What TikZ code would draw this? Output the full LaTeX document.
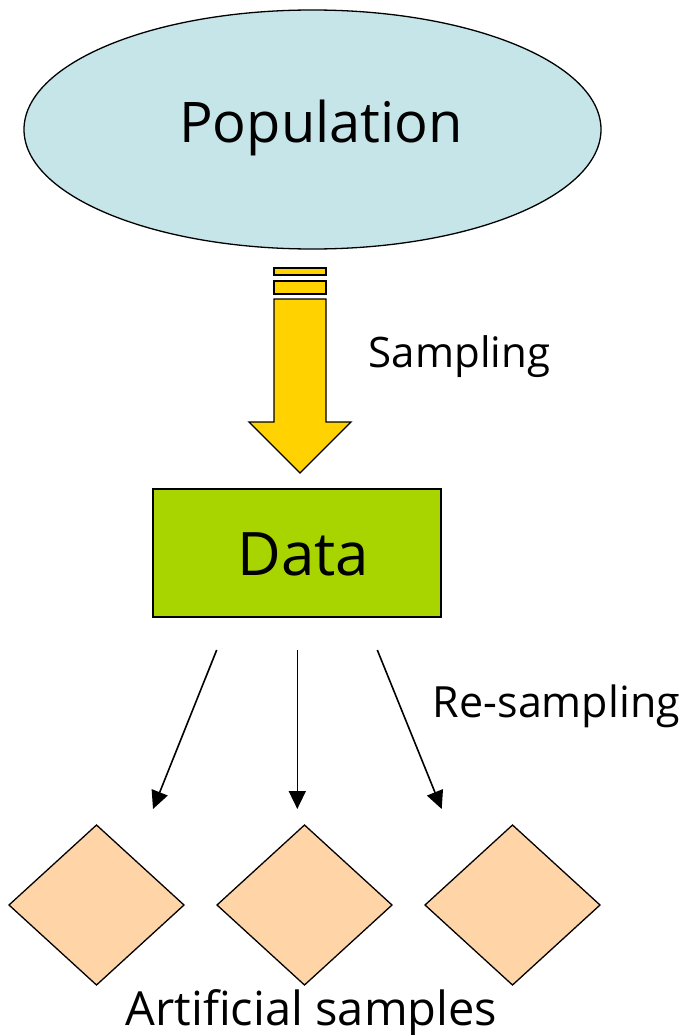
\documentclass[tikz,border=0pt]{standalone}
\usepackage{fontspec}
\setmainfont{Open Sans}
\usetikzlibrary{arrows.meta,shapes.geometric,calc}
\definecolor{popblue}{HTML}{C5E5E9}
\definecolor{arryellow}{HTML}{FFD200}
\definecolor{datagreen}{HTML}{A8D400}
\definecolor{peach}{HTML}{FFD5A8}
\tikzset{
  outline/.style={draw=black,line width=1.3pt},
  samplearrow/.style={line width=1.6pt,-{Triangle[length=18pt,width=17pt]}},
  lbl/.style={inner sep=0pt,anchor=base},
  diam/.style={outline,fill=peach}
}
\begin{document}
\begin{tikzpicture}[x=1pt,y=-1pt]
\useasboundingbox (0,0) rectangle (694,1035);
% population
\node[outline,fill=popblue,ellipse,minimum width=577,minimum height=239,inner sep=0pt] (pop) at (312.5,129.5) {};
\node[lbl,font=\fontsize{56}{58}\selectfont] (poptext) at (321,143) {Population};
% big arrow
\coordinate (bartop) at (300,268);
\draw[outline,fill=arryellow] (274,268) rectangle (326,275);
\draw[outline,fill=arryellow] (274,281) rectangle (326,294);
\draw[outline,fill=arryellow,line join=miter] (274,299) -- (326,299) -- (326,422) -- (351,422) -- (300,473) -- (249,422) -- (274,422) -- cycle;
\node[lbl,font=\fontsize{42}{44}\selectfont] (samp) at (459.5,367) {Sampling};
% data
\node[outline,fill=datagreen,minimum width=288,minimum height=128,inner sep=0pt] (data) at (297,553) {};
\node[lbl,font=\fontsize{60}{62}\selectfont] (datatext) at (303.5,575) {Data};
% diamonds
\coordinate (d1) at (96.5,905);
\coordinate (d2) at (304.5,905);
\coordinate (d3) at (512.5,905);
\foreach \c in {d1,d2,d3}{
  \draw[diam] ($(\c)+(-87.5,0)$) -- ($(\c)+(0,-80)$) -- ($(\c)+(87.5,0)$) -- ($(\c)+(0,80)$) -- cycle;
}
% arrows
\coordinate (s1) at (216.7,650);
\coordinate (s2) at (297.3,650);
\coordinate (s3) at (377.3,650);
\coordinate (e1) at (153,809);
\coordinate (e2) at (297.3,809);
\coordinate (e3) at (441.7,809);
\draw[samplearrow] (s1) -- (e1);
\draw[samplearrow] (s2) -- (e2);
\draw[samplearrow] (s3) -- (e3);
\node[lbl,font=\fontsize{43}{45}\selectfont] (resamp) at (556.5,717) {Re-sampling};
\node[lbl,font=\fontsize{47}{49}\selectfont] (art) at (311.5,1025) {Artificial samples};
\end{tikzpicture}
\end{document}
